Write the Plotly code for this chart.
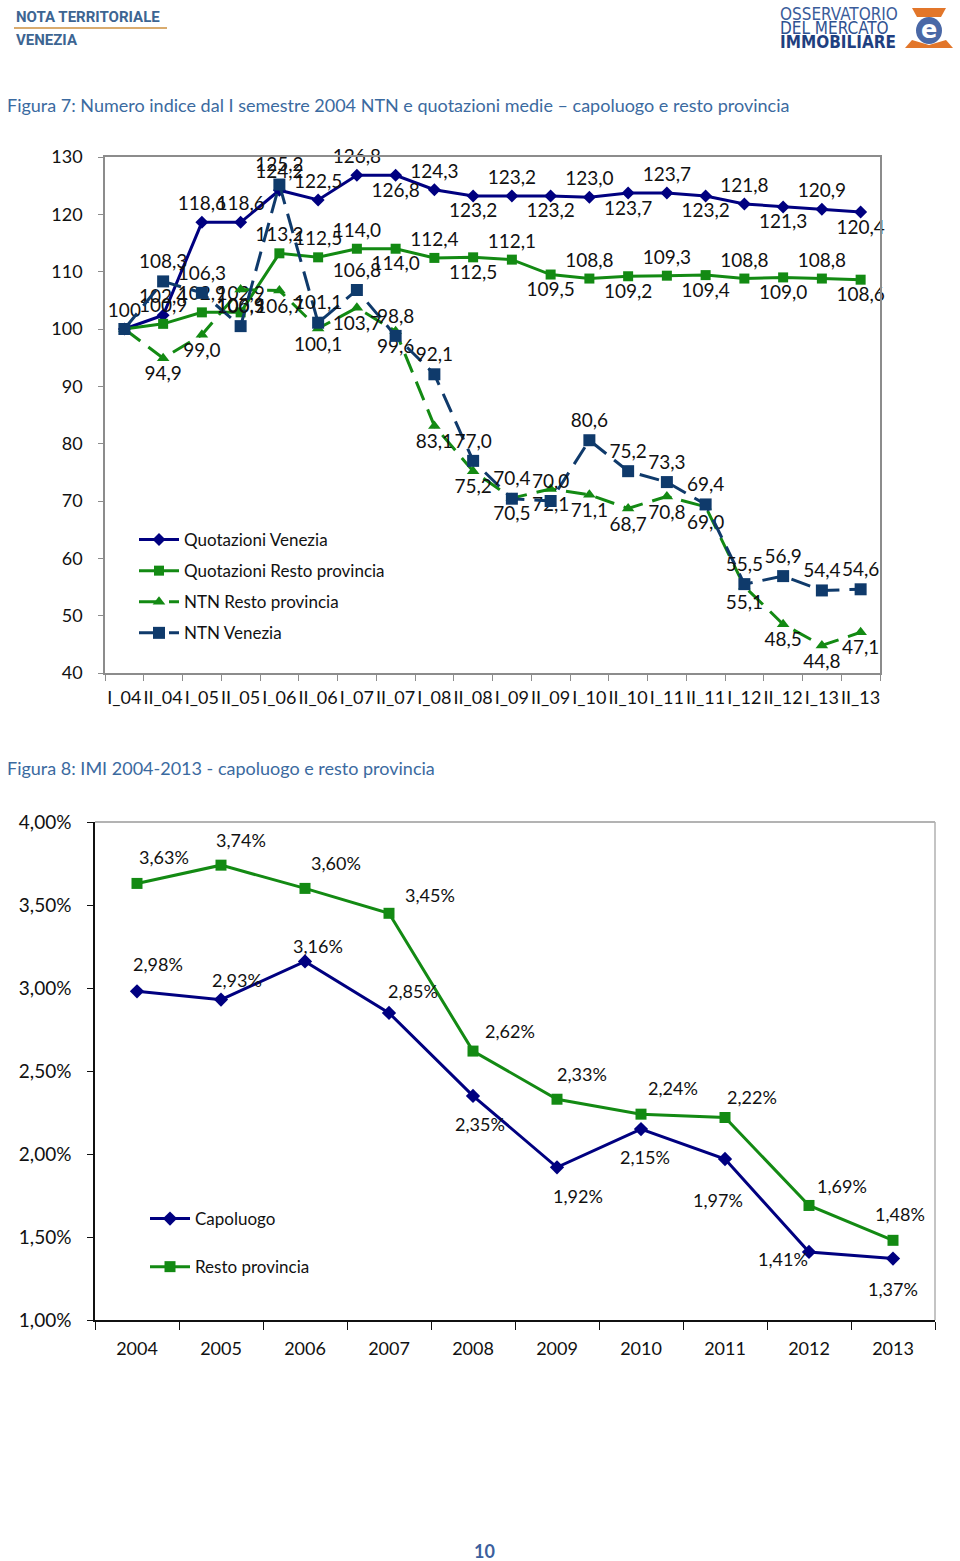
import plotly.graph_objects as go

# ---------------- DATA ----------------
periods = ["I_04", "II_04", "I_05", "II_05", "I_06", "II_06", "I_07", "II_07", "I_08", "II_08",
           "I_09", "II_09", "I_10", "II_10", "I_11", "II_11", "I_12", "II_12", "I_13", "II_13"]
quot_venezia = [100, 102.4, 118.6, 118.6, 124.2, 122.5, 126.8, 126.8, 124.3, 123.2,
                123.2, 123.2, 123.0, 123.7, 123.7, 123.2, 121.8, 121.3, 120.9, 120.4]
quot_resto = [100, 100.9, 102.9, 102.9, 113.2, 112.5, 114.0, 114.0, 112.4, 112.5,
              112.1, 109.5, 108.8, 109.2, 109.3, 109.4, 108.8, 109.0, 108.8, 108.6]
ntn_resto = [100, 94.9, 99.0, 106.9, 106.7, 100.1, 103.7, 99.6, 83.1, 75.2,
             70.5, 72.1, 71.1, 68.7, 70.8, 69.0, 55.1, 48.5, 44.8, 47.1]
ntn_venezia = [100, 108.3, 106.3, 100.5, 125.2, 101.1, 106.8, 98.8, 92.1, 77.0,
               70.4, 70.0, 80.6, 75.2, 73.3, 69.4, 55.5, 56.9, 54.4, 54.6]

years = ["2004", "2005", "2006", "2007", "2008", "2009", "2010", "2011", "2012", "2013"]
imi_capoluogo = [2.98, 2.93, 3.16, 2.85, 2.35, 1.92, 2.15, 1.97, 1.41, 1.37]
imi_resto = [3.63, 3.74, 3.60, 3.45, 2.62, 2.33, 2.24, 2.22, 1.69, 1.48]

# ---------------- STYLE ----------------
W, H = 960, 1561
NAVY = "#000080"
GREEN = "#138a13"
STEEL = "#0f3a6b"
HEAD = "#3b6aa0"
FONT = "Lato, 'Open Sans', sans-serif"

def px(x):
    return x / W

def py(y):
    return 1 - y / H

def fmt1(v):
    return f"{v:.1f}".replace(".", ",")

def fmtp(v):
    return f"{v:.2f}".replace(".", ",") + "%"

# label positions (style)
qv_pos = ["top center"] * 7 + ["bottom center", "top center"] * 6 + ["bottom center"]
qr_pos = ["top center"] * 7 + ["bottom center", "top center"] * 6 + ["bottom center"]
nv_pos = ["top center"] * 20
nr_pos = ["bottom center"] * 20

qv_txt = ["100"] + [fmt1(v) for v in quot_venezia[1:]]
qr_txt = [""] + [fmt1(v) for v in quot_resto[1:]]
nr_txt = [""] + [fmt1(v) for v in ntn_resto[1:]]
nv_txt = [""] + [fmt1(v) for v in ntn_venezia[1:]]

fig = go.Figure()
lab_font = dict(family=FONT, size=19, color="#111")

fig.add_trace(go.Scatter(
    x=periods, y=quot_venezia, name="Quotazioni Venezia", mode="lines+markers+text",
    line=dict(color=NAVY, width=3), marker=dict(symbol="diamond", size=10, color=NAVY),
    text=qv_txt, textposition=qv_pos, textfont=lab_font, cliponaxis=False,
    xaxis="x", yaxis="y", legend="legend", legendgroup="a"))
fig.add_trace(go.Scatter(
    x=periods, y=quot_resto, name="Quotazioni Resto provincia", mode="lines+markers+text",
    line=dict(color=GREEN, width=3), marker=dict(symbol="square", size=10, color=GREEN),
    text=qr_txt, textposition=qr_pos, textfont=lab_font, cliponaxis=False,
    xaxis="x", yaxis="y", legend="legend", legendgroup="b"))
fig.add_trace(go.Scatter(
    x=periods, y=ntn_resto, name="NTN Resto provincia", mode="lines+markers+text",
    line=dict(color=GREEN, width=3, dash="20px,10px"),
    marker=dict(symbol="triangle-up", size=11, color=GREEN),
    text=nr_txt, textposition=nr_pos, textfont=lab_font, cliponaxis=False,
    xaxis="x", yaxis="y", legend="legend", legendgroup="c"))
fig.add_trace(go.Scatter(
    x=periods, y=ntn_venezia, name="NTN Venezia", mode="lines+markers+text",
    line=dict(color=STEEL, width=3, dash="20px,10px"),
    marker=dict(symbol="square", size=12, color=STEEL),
    text=nv_txt, textposition=nv_pos, textfont=lab_font, cliponaxis=False,
    xaxis="x", yaxis="y", legend="legend", legendgroup="d"))

fig.add_trace(go.Scatter(
    x=years, y=imi_capoluogo, name="Capoluogo", mode="lines+markers",
    line=dict(color=NAVY, width=3), marker=dict(symbol="diamond", size=11, color=NAVY),
    cliponaxis=False, xaxis="x2", yaxis="y2", legend="legend2", legendgroup="e"))
fig.add_trace(go.Scatter(
    x=years, y=imi_resto, name="Resto provincia", mode="lines+markers",
    line=dict(color=GREEN, width=3), marker=dict(symbol="square", size=11, color=GREEN),
    cliponaxis=False, xaxis="x2", yaxis="y2", legend="legend2", legendgroup="f"))

# Figure 8 label offsets (pixels, style)
cap_dx = [21, 16, 13, 24, 7, 21, 4, -7, -26, 0]
cap_dy = [-27, -20, -15, -22, 28, 29, 28, 41, 7, 30]
res_dx = [27, 20, 31, 41, 37, 25, 32, 27, 33, 7]
res_dy = [-26, -25, -25, -18, -20, -25, -26, -20, -19, -26]

annotations = []
for i, (v, dx, dy) in enumerate(zip(imi_capoluogo, cap_dx, cap_dy)):
    annotations.append(dict(x=i, y=v, xref="x2", yref="y2", text=fmtp(v), showarrow=False,
                            xshift=dx, yshift=-dy, font=dict(family=FONT, size=18, color="#111")))
for i, (v, dx, dy) in enumerate(zip(imi_resto, res_dx, res_dy)):
    annotations.append(dict(x=i, y=v, xref="x2", yref="y2", text=fmtp(v), showarrow=False,
                            xshift=dx, yshift=-dy, font=dict(family=FONT, size=18, color="#111")))

# Headers and titles
def paper_text(x, y, text, size, color, bold=False, family=FONT, xanchor="left"):
    t = f"<b>{text}</b>" if bold else text
    return dict(x=px(x), y=py(y), xref="paper", yref="paper", text=t, showarrow=False,
                xanchor=xanchor, yanchor="middle", font=dict(family=family, size=size, color=color))

annotations += [
    paper_text(14, 17, "NOTA TERRITORIALE", 15, "#3d6592", bold=True, family="Roboto, sans-serif"),
    paper_text(14, 40, "VENEZIA", 15, "#3d6592", bold=True, family="Roboto, sans-serif"),
    paper_text(5, 105, "Figura 7: Numero indice dal I semestre 2004 NTN e quotazioni medie – capoluogo e resto provincia",
               18, HEAD),
    paper_text(5, 768, "Figura 8: IMI 2004-2013 - capoluogo e resto provincia", 18, HEAD),
    paper_text(484, 1551, "10", 18, "#3c5f9e", bold=True, xanchor="center"),
]
LOGO_FONT = "'Liberation Sans Narrow', 'DejaVu Sans Condensed', sans-serif"
annotations += [
    paper_text(778, 14, "OSSERVATORIO", 17, "#3a5c9a", family=LOGO_FONT),
    paper_text(778, 28, "DEL MERCATO", 17, "#2f5190", family=LOGO_FONT),
    paper_text(778, 42, "IMMOBILIARE", 17, "#1f3f80", bold=True, family=LOGO_FONT),
    paper_text(929, 30, "e", 24, "white", bold=True, family="DejaVu Sans", xanchor="center"),
]

def poly(points, color):
    d = "M " + " L ".join(f"{px(a):.5f},{py(b):.5f}" for a, b in points) + " Z"
    return dict(type="path", xref="paper", yref="paper", path=d, fillcolor=color,
                line=dict(width=0), layer="above")

shapes = [
    dict(type="line", xref="paper", yref="paper", x0=px(14), x1=px(167), y0=py(28), y1=py(28),
         line=dict(color="#d9ab6e", width=2)),
    poly([(912, 8), (946, 8), (941, 17), (917, 17)], "#e2762a"),
    poly([(905, 48), (953, 48), (946, 40), (929, 45), (912, 40)], "#e2762a"),
    dict(type="circle", xref="paper", yref="paper", x0=px(916), x1=px(942), y0=py(17), y1=py(44),
         fillcolor="#4a68a6", line=dict(width=0), layer="above"),
    # figure 8 top and right border (gray)
    dict(type="line", xref="x2 domain", yref="y2 domain", x0=0, x1=1, y0=1, y1=1,
         line=dict(color="#9a9a9a", width=1.5)),
    dict(type="line", xref="x2 domain", yref="y2 domain", x0=1, x1=1, y0=0, y1=1,
         line=dict(color="#b0b0b0", width=1.5)),
]

tick_font = dict(family=FONT, size=18, color="#111")

fig.update_layout(
    width=W, height=H, autosize=False,
    margin=dict(l=0, r=0, t=0, b=0, pad=0, autoexpand=False),
    paper_bgcolor="white", plot_bgcolor="white",
    separators=",.",
    showlegend=True,
    xaxis=dict(domain=[px(105), px(880)], type="category", range=[-0.5, 19.5],
               showgrid=False, showline=True, linecolor="#8c8c8c", linewidth=1.5, mirror=True,
               ticks="outside", ticklen=6, tickcolor="#8c8c8c", tickson="boundaries",
               tickangle=0, tickfont=dict(family=FONT, size=18, color="#111"), anchor="y",
               ticklabelstandoff=8, zeroline=False, automargin=False),
    yaxis=dict(domain=[py(673), py(157)], range=[40, 130], dtick=10, showgrid=False,
               showline=True, linecolor="#8c8c8c", linewidth=1.5, mirror=True,
               ticks="outside", ticklen=5, tickcolor="#8c8c8c", tickfont=tick_font,
               anchor="x", ticklabelstandoff=12, zeroline=False, automargin=False),
    xaxis2=dict(domain=[px(95), px(935)], type="category", range=[-0.5, 9.5],
                showgrid=False, showline=True, linecolor="#111", linewidth=1.5,
                ticks="outside", ticklen=8, tickcolor="#111", tickson="boundaries",
                tickangle=0, tickfont=dict(family=FONT, size=18, color="#111"), anchor="y2",
                ticklabelstandoff=12, zeroline=False, automargin=False),
    yaxis2=dict(domain=[py(1320), py(822)], range=[1.0, 4.0], dtick=0.5, tickformat=".2f",
                ticksuffix="%", showgrid=False, showline=True, linecolor="#111", linewidth=1.5,
                ticks="outside", ticklen=6, tickcolor="#111",
                tickfont=dict(family=FONT, size=19, color="#111"),
                anchor="x2", ticklabelstandoff=12, zeroline=False, automargin=False),
    legend=dict(x=px(134), y=py(522), xanchor="left", yanchor="top",
                font=dict(family=FONT, size=17, color="#111"), bgcolor="rgba(0,0,0,0)",
                traceorder="grouped", tracegroupgap=6, itemwidth=40),
    legend2=dict(x=px(145), y=py(1201), xanchor="left", yanchor="top",
                 font=dict(family=FONT, size=17, color="#111"), bgcolor="rgba(0,0,0,0)",
                 traceorder="grouped", tracegroupgap=23, itemwidth=40),
    annotations=annotations,
    shapes=shapes,
)

fig.write_html(
    "out.html",
    config={"displayModeBar": False},
    post_script="document.body.style.margin='0px';document.body.style.overflow='hidden';",
)
